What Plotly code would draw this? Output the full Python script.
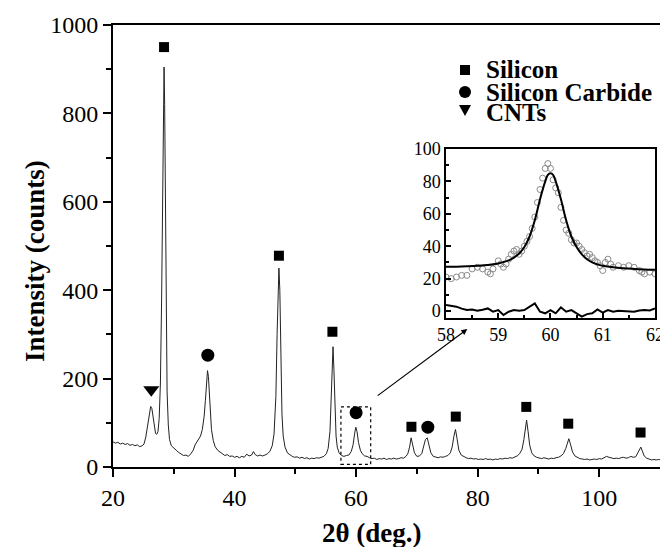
import plotly.graph_objects as go

# ---------------- main XRD pattern ----------------
two_theta = [20.0, 20.4, 20.8, 21.2, 21.6, 22.0, 22.4, 22.8, 23.2, 23.6, 24.0, 24.4, 24.8, 25.1, 25.4, 25.7,
             26.0, 26.2, 26.4, 26.6, 26.8, 27.0, 27.2, 27.4, 27.6, 27.8, 28.0, 28.15, 28.3, 28.4, 28.5, 28.6,
             28.75, 28.9, 29.1, 29.3, 29.6, 30.0, 30.4, 30.8, 31.2, 31.6, 32.0, 32.4, 32.8, 33.2, 33.5, 33.8,
             34.1, 34.4, 34.7, 35.0, 35.2, 35.4, 35.55, 35.7, 35.85, 36.0, 36.2, 36.5, 36.8, 37.2, 37.6, 38.0,
             38.4, 38.8, 39.2, 39.6, 40.0, 40.4, 40.8, 41.2, 41.6, 42.0, 42.4, 42.8, 43.1, 43.4, 43.8, 44.2,
             44.6, 45.0, 45.4, 45.8, 46.2, 46.5, 46.8, 47.0, 47.15, 47.3, 47.45, 47.6, 47.8, 48.0, 48.3, 48.7,
             49.1, 49.5, 49.9, 50.3, 50.7, 51.1, 51.5, 51.9, 52.3, 52.7, 53.1, 53.5, 53.9, 54.3, 54.7, 55.1,
             55.4, 55.7, 55.9, 56.05, 56.2, 56.35, 56.5, 56.7, 56.9, 57.2, 57.6, 58.0, 58.4, 58.8, 59.2, 59.5,
             59.75, 59.95, 60.15, 60.4, 60.7, 61.0, 61.4, 61.8, 62.2, 62.6, 63.0, 63.4, 63.8, 64.2, 64.6, 65.0,
             65.4, 65.8, 66.2, 66.6, 67.0, 67.4, 67.8, 68.2, 68.5, 68.8, 69.05, 69.3, 69.6, 70.0, 70.4, 70.8,
             71.1, 71.4, 71.7, 72.0, 72.3, 72.7, 73.1, 73.5, 73.9, 74.3, 74.7, 75.1, 75.5, 75.8, 76.1, 76.35,
             76.6, 76.9, 77.3, 77.7, 78.1, 78.5, 78.9, 79.3, 79.7, 80.1, 80.5, 80.9, 81.3, 81.7, 82.1, 82.5,
             82.9, 83.3, 83.7, 84.1, 84.5, 84.9, 85.3, 85.7, 86.1, 86.5, 86.9, 87.3, 87.6, 87.85, 88.05, 88.3,
             88.55, 88.9, 89.3, 89.7, 90.1, 90.5, 90.9, 91.3, 91.7, 92.1, 92.5, 92.9, 93.3, 93.7, 94.1, 94.5,
             94.8, 95.0, 95.3, 95.6, 96.0, 96.4, 96.8, 97.2, 97.6, 98.0, 98.4, 98.8, 99.2, 99.6, 100.0, 100.4,
             100.8, 101.2, 101.6, 102.0, 102.4, 102.8, 103.2, 103.6, 104.0, 104.4, 104.8, 105.2, 105.6, 106.0,
             106.3, 106.6, 106.85, 107.1, 107.4, 107.8, 108.2, 108.6, 109.0, 109.4, 109.8, 110.2]
intensity = [57, 54, 56, 52, 54, 51, 53, 49, 51, 48, 50, 46, 48, 52, 68, 95,
             125, 137, 132, 110, 88, 76, 74, 80, 110, 190, 380, 650, 870, 905, 820, 600,
             330, 170, 95, 62, 48, 42, 38, 33, 30, 26, 27, 24, 30, 38, 50, 57,
             62, 70, 85, 115, 150, 195, 218, 205, 165, 120, 85, 60, 46, 38, 34, 30,
             26, 28, 24, 25, 22, 24, 21, 24, 22, 29, 25, 27, 35, 28, 25, 27,
             25, 27, 30, 35, 48, 75, 160, 300, 420, 450, 400, 250, 120, 70, 45, 32,
             27, 24, 22, 23, 20, 22, 19, 21, 18, 20, 19, 21, 20, 22, 24, 30,
             42, 80, 170, 250, 272, 220, 130, 70, 45, 32, 26, 24, 26, 27, 35, 50,
             75, 90, 80, 55, 38, 30, 25, 24, 21, 19, 20, 17, 19, 18, 20, 17,
             19, 18, 20, 18, 19, 21, 20, 24, 30, 45, 66, 52, 32, 24, 25, 30,
             45, 62, 66, 50, 32, 24, 22, 21, 23, 22, 24, 26, 32, 45, 70, 85,
             65, 38, 27, 23, 21, 19, 20, 18, 19, 17, 18, 17, 19, 17, 18, 16,
             18, 17, 19, 18, 20, 19, 21, 20, 23, 25, 30, 40, 62, 95, 106, 80,
             50, 32, 25, 22, 20, 19, 21, 19, 18, 20, 19, 21, 22, 25, 30, 42,
             58, 64, 50, 34, 25, 22, 19, 18, 17, 18, 16, 17, 18, 17, 19, 18,
             22, 24, 22, 20, 19, 20, 19, 21, 22, 20, 21, 24, 22, 23,
             30, 40, 45, 36, 25, 20, 18, 16, 17, 16, 17, 16]

# ---------------- phase labels above peaks ----------------
si_x = [28.4, 47.3, 56.1, 69.1, 76.4, 88.0, 94.9, 106.8]
si_y = [950, 478, 306, 91, 114, 136, 98, 78]
sic_x = [35.6, 60.0, 71.8]
sic_y = [253, 123, 90]
cnt_x = [26.3]
cnt_y = [175]
legend_labels = ["Silicon", "Silicon Carbide", "CNTs"]

# ---------------- inset (SiC peak near 60 deg) ----------------
inset_obs_x = [58.0, 58.1, 58.2, 58.3, 58.4, 58.5, 58.6, 58.7, 58.8, 58.85, 58.9, 59.0, 59.05, 59.1, 59.15,
               59.2, 59.25, 59.3, 59.35, 59.4, 59.45, 59.5, 59.55, 59.6, 59.65, 59.7, 59.75, 59.8, 59.85,
               59.9, 59.95, 60.0, 60.05, 60.1, 60.15, 60.2, 60.25, 60.3, 60.35, 60.4, 60.45, 60.5, 60.55,
               60.6, 60.65, 60.7, 60.75, 60.8, 60.85, 60.9, 60.95, 61.0, 61.05, 61.1, 61.15, 61.2, 61.3,
               61.4, 61.5, 61.6, 61.7, 61.75, 61.8, 61.9, 62.0]
inset_obs_y = [21, 20, 21, 22, 22, 26, 27, 26, 24, 23, 26, 31, 29, 27, 29,
               32, 35, 37, 38, 35, 37, 40, 43, 46, 51, 58, 67, 75, 82,
               88, 91, 88, 81, 76, 73, 64, 56, 50, 48, 44, 42, 42, 40,
               38, 36, 34, 35, 33, 31, 30, 28, 25, 30, 32, 29, 27, 28,
               27, 28, 27, 25, 24, 23, 24, 23]
inset_fit_x = [58.0, 58.2, 58.4, 58.6, 58.8, 59.0, 59.1, 59.2, 59.3, 59.4, 59.5, 59.6, 59.7, 59.8, 59.9,
               59.95, 60.0, 60.05, 60.1, 60.2, 60.3, 60.4, 60.5, 60.6, 60.7, 60.8, 60.9, 61.0, 61.2, 61.4,
               61.6, 61.8, 62.0]
inset_fit_y = [27.3, 27.4, 27.6, 27.9, 28.4, 29.4, 30.2, 31.3, 33.0, 35.5, 39.5, 46, 56, 69, 80,
               84, 85, 84, 80, 69, 56, 46, 39.5, 35, 32, 30, 28.8, 28, 27, 26.4,
               26, 25.7, 25.5]
inset_res_x = [58.0, 58.1, 58.2, 58.3, 58.4, 58.5, 58.6, 58.7, 58.8, 58.9, 59.0, 59.1, 59.2, 59.3, 59.4,
               59.5, 59.6, 59.7, 59.8, 59.9, 60.0, 60.1, 60.2, 60.3, 60.4, 60.5, 60.6, 60.7, 60.8, 60.9,
               61.0, 61.1, 61.2, 61.3, 61.4, 61.5, 61.6, 61.7, 61.8, 61.9, 62.0]
inset_res_y = [3.7, 3.0, 2.7, 1.5, 0.6, 0.9, 0.2, 0.8, 1.6, -0.4, 0.6, -2.5, -0.4, 0.6, 0.2,
               0.6, 2.7, 4.7, -0.4, -1.4, 0.6, -1.4, 2.3, -0.4, 0.6, -1.4, -3.5, -1.9, -1.4, 1.0,
               -1.0, 0.6, -0.4, 0.2, 0.0, -0.2, -0.4, 0.3, 0.6, 0.4, 1.6]

SERIF = "Liberation Serif, Times New Roman, serif"

fig = go.Figure()

fig.add_trace(go.Scatter(x=two_theta, y=intensity, mode="lines",
                         line=dict(color="#222222", width=1), showlegend=False, hoverinfo="skip"))
fig.add_trace(go.Scatter(x=si_x, y=si_y, mode="markers", name=legend_labels[0], showlegend=False,
                         marker=dict(symbol="square", size=10, color="black")))
fig.add_trace(go.Scatter(x=sic_x, y=sic_y, mode="markers", name=legend_labels[1], showlegend=False,
                         marker=dict(symbol="circle", size=13, color="black")))
fig.add_trace(go.Scatter(x=cnt_x, y=cnt_y, mode="markers", name=legend_labels[2], showlegend=False,
                         marker=dict(symbol="triangle-down", size=14, color="black")))

# inset traces
fig.add_trace(go.Scatter(x=inset_obs_x, y=inset_obs_y, mode="markers", xaxis="x2", yaxis="y2",
                         marker=dict(symbol="circle-open", size=6, color="#8a8a8a", line=dict(width=1)),
                         showlegend=False))
fig.add_trace(go.Scatter(x=inset_fit_x, y=inset_fit_y, mode="lines", xaxis="x2", yaxis="y2",
                         line=dict(color="black", width=2, shape="spline"), showlegend=False))
fig.add_trace(go.Scatter(x=inset_res_x, y=inset_res_y, mode="lines", xaxis="x2", yaxis="y2",
                         line=dict(color="black", width=2), showlegend=False))

# legend drawn by hand (compact rows as in the reference)
L, T, PW, PH = 113, 25, 547, 442  # plot-area geometry in pixels


def px(xp):
    return (xp - L) / PW


def py(yp):
    return (T + PH - yp) / PH


legend_shapes = [
    dict(type="rect", xref="paper", yref="paper", x0=px(460), x1=px(470), y0=py(75), y1=py(65),
         fillcolor="black", line=dict(width=0)),
    dict(type="circle", xref="paper", yref="paper", x0=px(459), x1=px(471), y0=py(98), y1=py(86),
         fillcolor="black", line=dict(width=0)),
    dict(type="path", xref="paper", yref="paper",
         path=f"M {px(459)} {py(105)} L {px(471)} {py(105)} L {px(465)} {py(116)} Z",
         fillcolor="black", line=dict(width=0)),
]
legend_annots = [
    dict(xref="paper", yref="paper", x=px(484), y=py(yy), xanchor="left", yanchor="middle",
         text=f"<b>{lab}</b>", showarrow=False, font=dict(family=SERIF, size=25, color="black"))
    for lab, yy in zip(legend_labels, [70, 92, 113])
]

axis_font = dict(family=SERIF, size=24, color="black")
fig.update_layout(
    width=660, height=547,
    margin=dict(l=113, r=0, t=25, b=80, autoexpand=False),
    paper_bgcolor="white", plot_bgcolor="white",
    font=dict(family=SERIF, color="black"),
    showlegend=False,
    xaxis=dict(range=[20, 110], domain=[0, 1], showgrid=False, zeroline=False, automargin=False,
               showline=True, linewidth=2, linecolor="black", mirror=True,
               ticks="outside", ticklen=8, tickwidth=2, tickcolor="black",
               tickvals=[20, 40, 60, 80, 100], tickfont=axis_font,
               minor=dict(ticks="outside", ticklen=5, tickwidth=2, tickcolor="black",
                          tickvals=[30, 50, 70, 90])),
    yaxis=dict(range=[0, 1000], domain=[0, 1], showgrid=False, zeroline=False, automargin=False,
               showline=True, linewidth=2, linecolor="black", mirror=False,
               ticks="outside", ticklen=8, tickwidth=2, tickcolor="black",
               tickvals=[0, 200, 400, 600, 800, 1000], tickfont=axis_font,
               minor=dict(ticks="outside", ticklen=5, tickwidth=2, tickcolor="black",
                          tickvals=[100, 300, 500, 700, 900])),
    xaxis2=dict(range=[58, 62.001], domain=[px(446), px(655)], anchor="y2", showgrid=False, zeroline=False,
                automargin=False,
                showline=True, linewidth=1.5, linecolor="black", mirror=True,
                ticks="inside", ticklen=5, tickwidth=1.5, tickcolor="black", ticklabeloverflow="allow",
                tickvals=[58, 59, 60, 61, 62], tickfont=dict(family=SERIF, size=18, color="black"),
                minor=dict(ticks="inside", ticklen=3, tickwidth=1.5, tickcolor="black",
                           tickvals=[58.5, 59.5, 60.5, 61.5])),
    yaxis2=dict(range=[-4.3, 100], domain=[py(318), py(149)], anchor="x2", showgrid=False, zeroline=False,
                automargin=False,
                showline=True, linewidth=1.5, linecolor="black", mirror=True,
                ticks="inside", ticklen=5, tickwidth=1.5, tickcolor="black",
                tickvals=[0, 20, 40, 60, 80, 100], tickfont=dict(family=SERIF, size=18, color="black"),
                minor=dict(ticks="inside", ticklen=3, tickwidth=1.5, tickcolor="black",
                           tickvals=[10, 30, 50, 70, 90])),
    shapes=[dict(type="rect", xref="x", yref="y", x0=57.5, x1=62.4, y0=6, y1=136,
                 line=dict(color="black", width=1.2, dash="dot"))] + legend_shapes,
    annotations=[
        dict(xref="x", yref="y", axref="x", ayref="y", x=78.3, y=312, ax=63.3, ay=159,
             showarrow=True, arrowhead=2, arrowsize=1, arrowwidth=1.2, arrowcolor="black", text=""),
        dict(xref="paper", yref="paper", x=px(372), y=py(533), xanchor="center", yanchor="middle",
             text="<b>2θ (deg.)</b>", showarrow=False, font=dict(family=SERIF, size=27, color="black")),
        dict(xref="paper", yref="paper", x=px(35), y=py(261), xanchor="center", yanchor="middle",
             text="<b>Intensity (counts)</b>", textangle=-90, showarrow=False,
             font=dict(family=SERIF, size=27, color="black")),
    ] + legend_annots,
)

fig.write_html("out.html", config={"displayModeBar": False},
               post_script="document.body.style.margin='0px';")
